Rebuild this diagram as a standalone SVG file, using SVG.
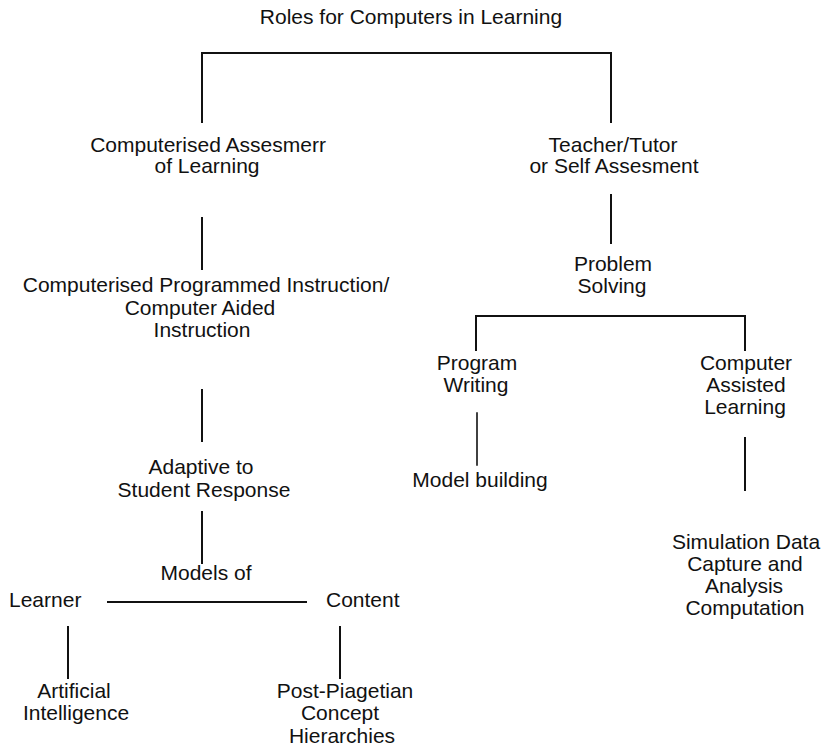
<svg xmlns="http://www.w3.org/2000/svg" width="830" height="756" viewBox="0 0 830 756">
  <style>
    .lbl { font-family: "Liberation Sans", Arial, Helvetica, sans-serif; font-size: 21px; fill: #111; text-anchor: middle; }
    .start { text-anchor: start; }
    .ln { stroke: #111; stroke-width: 2; fill: none; stroke-linecap: square; }
    .thin { stroke-width: 1.6; }
  </style>
  <rect width="830" height="756" fill="#fff"/>

  <!-- connectors -->
  <g id="connectors">
    <path class="ln" d="M202 122 V53 H611 V122"/>
    <line class="ln" x1="202" y1="218" x2="202" y2="269"/>
    <line class="ln" x1="202" y1="390" x2="202" y2="441"/>
    <line class="ln" x1="202" y1="512" x2="202" y2="563"/>
    <line class="ln" x1="108" y1="602" x2="306" y2="602"/>
    <line class="ln" x1="68" y1="627" x2="68" y2="678"/>
    <line class="ln" x1="340" y1="627" x2="340" y2="678"/>
    <line class="ln" x1="611" y1="195" x2="611" y2="243"/>
    <path class="ln" d="M476 350 V316 H745 V350"/>
    <line class="ln thin" x1="477" y1="413" x2="477" y2="465"/>
    <line class="ln" x1="745" y1="438" x2="745" y2="490"/>
  </g>

  <g id="title">
    <text class="lbl" x="411" y="24">Roles for Computers in Learning</text>
  </g>

  <g id="computerised-assessment">
    <text class="lbl" x="208" y="152">Computerised Assesmerr</text>
    <text class="lbl" x="207" y="173">of Learning</text>
  </g>

  <g id="programmed-instruction">
    <text class="lbl" x="206" y="292">Computerised Programmed Instruction/</text>
    <text class="lbl" x="200" y="315">Computer Aided</text>
    <text class="lbl" x="202" y="337">Instruction</text>
  </g>

  <g id="adaptive">
    <text class="lbl" x="201" y="474">Adaptive to</text>
    <text class="lbl" x="204" y="497">Student Response</text>
  </g>

  <g id="models-of">
    <text class="lbl" x="206" y="580">Models of</text>
  </g>

  <g id="learner">
    <text class="lbl start" x="9" y="607">Learner</text>
  </g>

  <g id="content">
    <text class="lbl start" x="326" y="607">Content</text>
  </g>

  <g id="artificial-intelligence">
    <text class="lbl" x="74" y="698">Artificial</text>
    <text class="lbl" x="76" y="720">Intelligence</text>
  </g>

  <g id="concept-hierarchies">
    <text class="lbl" x="345" y="698">Post-Piagetian</text>
    <text class="lbl" x="340" y="720">Concept</text>
    <text class="lbl" x="342" y="743">Hierarchies</text>
  </g>

  <g id="teacher-tutor">
    <text class="lbl" x="613" y="152">Teacher/Tutor</text>
    <text class="lbl" x="614" y="173">or Self Assesment</text>
  </g>

  <g id="problem-solving">
    <text class="lbl" x="613" y="271">Problem</text>
    <text class="lbl" x="612" y="293">Solving</text>
  </g>

  <g id="program-writing">
    <text class="lbl" x="477" y="370">Program</text>
    <text class="lbl" x="476" y="392">Writing</text>
  </g>

  <g id="model-building">
    <text class="lbl" x="480" y="487">Model building</text>
  </g>

  <g id="computer-assisted-learning">
    <text class="lbl" x="746" y="370">Computer</text>
    <text class="lbl" x="746" y="392">Assisted</text>
    <text class="lbl" x="745" y="414">Learning</text>
  </g>

  <g id="simulation">
    <text class="lbl" x="746" y="549">Simulation Data</text>
    <text class="lbl" x="745" y="571">Capture and</text>
    <text class="lbl" x="744" y="593">Analysis</text>
    <text class="lbl" x="745" y="615">Computation</text>
  </g>
</svg>
